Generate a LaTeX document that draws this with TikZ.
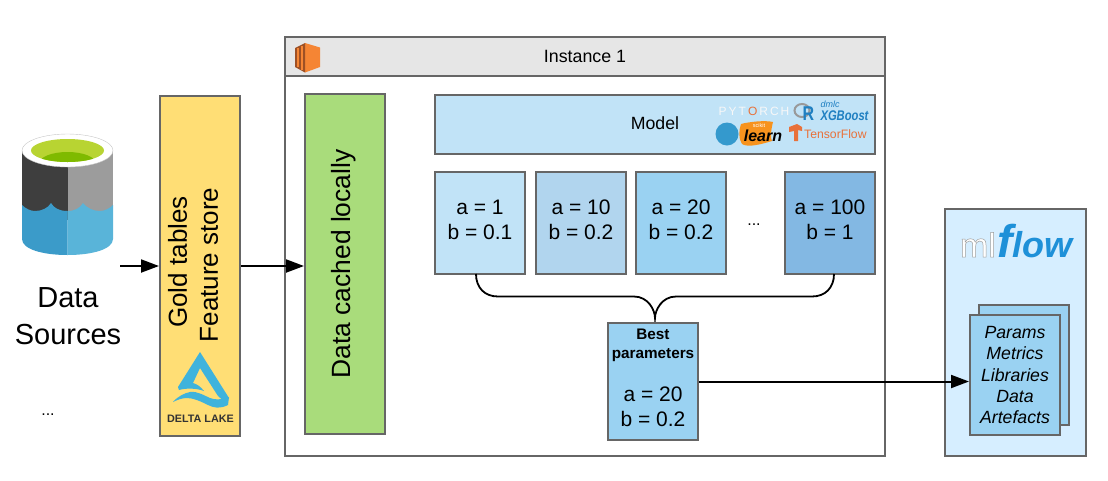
\documentclass[tikz,border=0pt]{standalone}
\usepackage{fontspec}
\setmainfont{Liberation Sans}
\usetikzlibrary{arrows.meta,calc}
\definecolor{bord}{HTML}{666666}
\definecolor{gold}{HTML}{FFDE75}
\definecolor{grn}{HTML}{A9DC7B}
\definecolor{lb}{HTML}{C1E3F7}
\definecolor{mb}{HTML}{B1D5EE}
\definecolor{sb}{HTML}{9AD2F2}
\definecolor{db}{HTML}{83B8E3}
\definecolor{pale}{HTML}{D6EEFF}
\definecolor{hdr}{HTML}{E6E6E6}
\definecolor{dl}{HTML}{3FB3DC}
\definecolor{awsd}{HTML}{9D5025}
\definecolor{awsl}{HTML}{F58534}
\definecolor{cyd}{HTML}{3E3E3E}
\definecolor{cyg}{HTML}{9C9C9C}
\definecolor{wl}{HTML}{3B9BC9}
\definecolor{wr}{HTML}{59B4D9}
\definecolor{gl}{HTML}{B8D432}
\definecolor{gd}{HTML}{7FBA00}
\definecolor{xgb}{HTML}{1F7FC1}
\definecolor{skb}{HTML}{3499CD}
\definecolor{sko}{HTML}{F7931E}
\definecolor{tfo}{HTML}{E8713A}
\definecolor{mlb}{HTML}{1E90D8}
\newcommand{\fsz}[2]{\fontsize{#1}{#2}\selectfont}
\tikzset{
  x=1pt,y=-1pt,
  boxy/.style={draw=bord,line width=2pt,inner sep=0pt,align=center},
  conn/.style={draw=black,line width=2pt,-{Triangle[length=18pt,width=13pt]}},
  valbox/.style={boxy,minimum width=90pt,minimum height=102pt,font=\fsz{21}{25}},
  vert/.style={rotate=90,align=center,inner sep=0pt},
  plain/.style={inner sep=0pt,align=center},
}
\begin{document}
\begin{tikzpicture}
\useasboundingbox (0,0) rectangle (1108,480);
% database cylinder
\fill[cyd] (22,150) rectangle (67.5,220);
\fill[cyg] (67.5,150) rectangle (113,220);
\fill[wl] (22,205) .. controls (26,209) and (31,211) .. (35,211) .. controls (42,211) and (48,208) .. (51,203) .. controls (54,208) and (59,211) .. (67.5,211) -- (67.5,255) .. controls (42,255) and (22,249) .. (22,239) -- cycle;
\fill[wr] (67.5,211) .. controls (75,211) and (80,208) .. (83,203) .. controls (87,208) and (93,211) .. (100,211) .. controls (105,211) and (110,208) .. (113,205) -- (113,239) .. controls (113,249) and (93,255) .. (67.5,255) -- cycle;
\fill[white,draw=black!22,line width=0.4pt] (67.5,150.5) ellipse [x radius=45.5,y radius=16.5];
\fill[gl] (67.5,150.5) ellipse [x radius=36.5,y radius=11.5];
\begin{scope}
\clip (67.5,150.5) ellipse [x radius=36.5,y radius=11.5];
\fill[gd] (67.5,163) ellipse [x radius=28,y radius=11];
\end{scope}
\node[plain,font=\fsz{29}{37}] (src) at (68,316) {Data\\Sources};
\node[plain,font=\fsz{16}{16}] (srcdots) at (48,415) {...};
% gold tables
\node[boxy,fill=gold,minimum width=80pt,minimum height=340pt] (goldbox) at (200,266) {};
\node[vert,font=\fsz{26}{31}] (goldtxt) at (193,265) {\hspace*{6pt}Gold tables\\Feature store};
\fill[dl] (200,352) -- (229,398) -- (226,403) -- (218,396) -- (200,368) -- (193,383) .. controls (197,384) and (201,387) .. (204,391) .. controls (196,388) and (186,388) .. (179,390) -- (178,387) -- cycle;
\fill[dl] (173,402) .. controls (178,396) and (185,393) .. (190,392) .. controls (198,391) and (205,396) .. (210,398) .. controls (215,400) and (221,400) .. (229,397) -- (228,405) .. controls (220,409) and (214,408) .. (208,405) .. controls (200,401) and (193,398) .. (187,398) .. controls (182,398) and (177,400) .. (173,402) -- cycle;
\node[plain,font=\fsz{10.8}{12}\bfseries,text=black!80] (deltatxt) at (200.5,419) {DELTA LAKE};
% instance
\node[boxy,fill=white,minimum width=600pt,minimum height=419pt] (inst) at (585,246.5) {};
\node[boxy,fill=hdr,minimum width=600pt,minimum height=39pt,font=\fsz{17.8}{20}] (hdrbox) at (585,56.5) {Instance 1};
\fill[awsl] (305,43) -- (320,47.5) -- (320,67) -- (305,72.5) -- cycle;
\fill[awsd] (295,48) -- (305,43) -- (305,72.5) -- (295,67) -- cycle;
\fill[awsl] (296.5,47.5) rectangle (298.5,67);
\fill[awsl] (301,45.5) rectangle (303,70);
% cached
\node[boxy,fill=grn,minimum width=80pt,minimum height=340pt] (cached) at (345,264) {};
\node[vert,font=\fsz{26.4}{31}] (cachedtxt) at (344,264) {Data cached locally};
% model
\node[boxy,fill=lb,minimum width=440pt,minimum height=59pt] (model) at (655,124.5) {};
\node[plain,font=\fsz{17.7}{20}] (modeltxt) at (655,123) {Model};
% logos in model
\node[plain,font=\fsz{12}{12},text=black!3] (pyt) at (754,111) {P\,Y\,T\,\textcolor{tfo}{O}\,R\,C\,H};
\draw[black!40,line width=2pt] (802,110.5) ellipse [x radius=7.5,y radius=6.5];
\node[plain,xscale=0.8,font=\fsz{20}{20}\bfseries,text=xgb] (rtxt) at (808.5,113.5) {R};
\node[plain,font=\fsz{9}{9}\itshape,text=xgb] (dmlc) at (830,104) {dmlc};
\node[plain,xscale=0.8,font=\fsz{14}{14}\itshape\bfseries,text=xgb] (xgbtxt) at (844.5,116) {XGBoost};
\fill[skb] (727,134) circle [radius=11.5];
\fill[sko] (741,124) .. controls (748,122) and (765,120) .. (773,122) .. controls (771,130) and (770,138) .. (772,141) .. controls (762,144) and (748,148) .. (742,144) .. controls (738,138) and (739,130) .. (741,124) -- cycle;
\node[plain,font=\fsz{5.5}{6},text=white] (scikit) at (759,126) {scikit};
\node[plain,font=\fsz{16}{16}\itshape\bfseries,text=black] (learn) at (763,136) {learn};
\fill[tfo] (789,127) -- (797,124) -- (802,127) -- (802,131) -- (798,130) -- (798,141) -- (794,141) -- (794,131) -- (789,132) -- cycle;
\node[plain,font=\fsz{12.2}{14},text=tfo,anchor=west] (tftxt) at (804,134) {TensorFlow};
% value boxes
\node[valbox,fill=lb] (a1) at (480,223) {a = 1\\b = 0.1\\[-19pt]};
\node[valbox,fill=mb] (a10) at (581,223) {a = 10\\b = 0.2\\[-19pt]};
\node[valbox,fill=sb] (a20) at (681,223) {a = 20\\b = 0.2\\[-19pt]};
\node[plain,font=\fsz{16}{16}] (vdots) at (754,225) {...};
\node[valbox,fill=db] (a100) at (830,223) {a = 100\\b = 1\\[-19pt]};
% brace
\coordinate (bl) at (476,274);
\coordinate (br) at (834,274);
\coordinate (btip) at (655,318);
\draw[black,line width=1.8pt] (bl) .. controls (476,288) and (485,296.5) .. (498,296.5) -- (634,296.5) .. controls (648,296.5) and (655,310) .. (btip) .. controls (655,310) and (662,296.5) .. (676,296.5) -- (812,296.5) .. controls (825,296.5) and (834,288) .. (br);
% best
\node[boxy,fill=sb,minimum width=90pt,minimum height=117pt] (best) at (653,381.5) {};
\node[plain,font=\fsz{15.3}{19}\bfseries] (besthd) at (653,345.5) {Best\\parameters};
\node[plain,font=\fsz{21}{25}] (bestval) at (653,407) {a = 20\\b = 0.2};
% mlflow
\node[boxy,fill=pale,minimum width=141pt,minimum height=247pt] (mlbox) at (1015.5,332.5) {};
\node[plain,font=\fsz{34}{34},text=white,anchor=base east] (mltxt) at (996,257) {\special{pdf:code 0.62 G 0.5 w 2 Tr}ml\special{pdf:code 0 Tr 0 G}};
\node[plain,font=\fsz{46}{46}\itshape\bfseries,text=mlb,anchor=base west] (flowtxt) at (997,257) {f\fsz{36}{36}low};
\node[boxy,fill=sb,minimum width=90pt,minimum height=120pt] (back) at (1024,365) {};
\node[boxy,fill=sb,minimum width=90pt,minimum height=120pt,font=\fsz{17.7}{21.3}\itshape] (front) at (1015,375) {Params\\Metrics\\Libraries\\Data\\Artefacts};
% connectors
\coordinate (srcout) at (120,266);
\draw[conn] (srcout) -- (goldbox.west);
\draw[conn] (goldbox.east) -- (goldbox.east -| cached.west);
\draw[conn] (best.east) -- (best.east -| front.west);
\end{tikzpicture}
\end{document}
